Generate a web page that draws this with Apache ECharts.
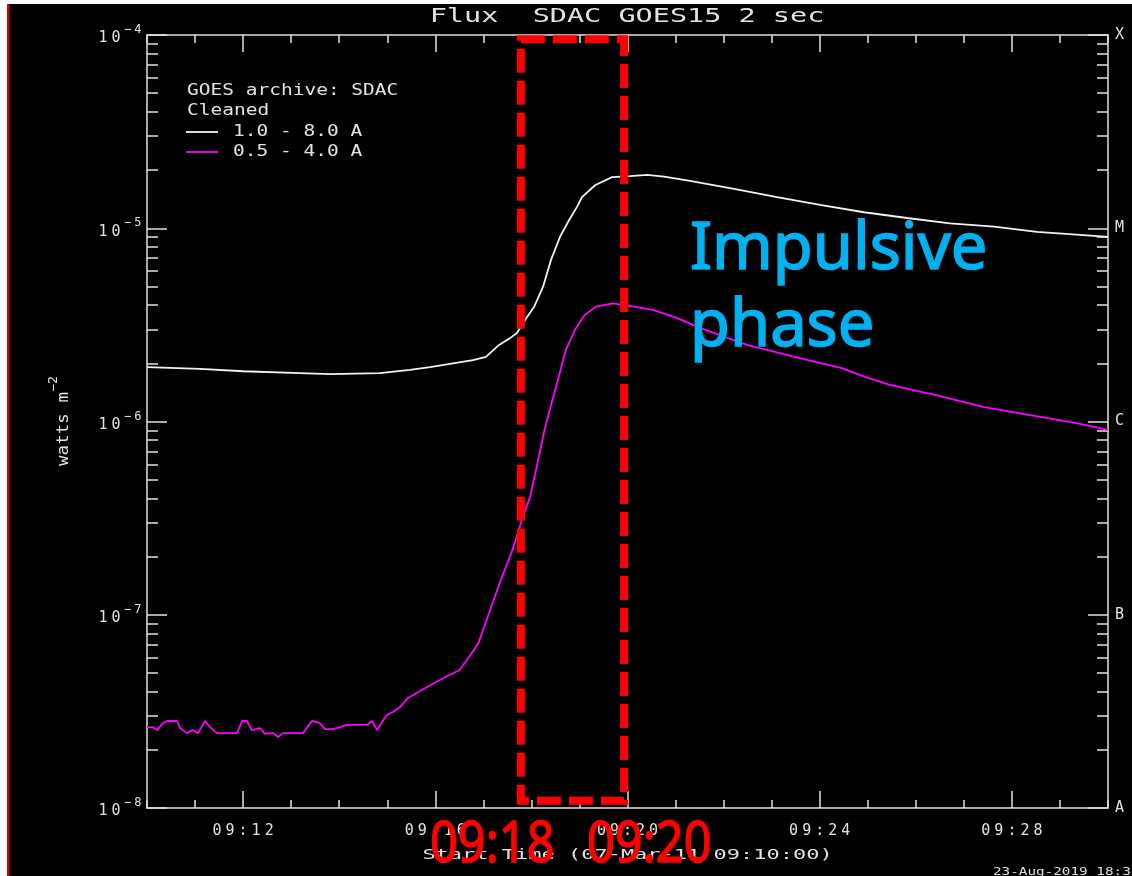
<!DOCTYPE html>
<html>
<head>
<meta charset="utf-8">
<script src="https://cdn.jsdelivr.net/npm/echarts@6/dist/echarts.min.js"></script>
<style>
html,body{margin:0;padding:0;background:#000;}
#c{width:1132px;height:876px;}
</style>
</head>
<body>
<div id="c"></div>
<script>
// ---- data (minutes after 09:00 on 07-Mar-2011, flux in W m^-2) ----
const whiteTime = [10.000, 11.103, 11.998, 13.184, 13.809, 14.849, 15.473, 15.890, 16.785, 17.055,
  17.326, 17.555, 17.700, 17.867, 18.054, 18.241, 18.408, 18.595, 18.783, 18.949,
  19.053, 19.324, 19.678, 20.052, 20.406, 20.760, 21.301, 22.217, 23.112, 24.007,
  24.922, 25.817, 26.712, 27.627, 28.522, 29.417, 30.000];
const whiteFlux = [1.91e-6, 1.87e-6, 1.82e-6, 1.78e-6, 1.76e-6, 1.78e-6, 1.85e-6, 1.91e-6, 2.08e-6, 2.16e-6,
  2.49e-6, 2.70e-6, 2.87e-6, 3.35e-6, 3.91e-6, 4.97e-6, 6.86e-6, 9.02e-6, 1.10e-5, 1.29e-5,
  1.45e-5, 1.67e-5, 1.84e-5, 1.86e-5, 1.89e-5, 1.85e-5, 1.76e-5, 1.60e-5, 1.45e-5, 1.32e-5,
  1.21e-5, 1.13e-5, 1.06e-5, 1.02e-5, 9.57e-6, 9.23e-6, 9.02e-6];

const magentaTime = [10.000, 10.125, 10.208, 10.333, 10.416, 10.624, 10.687, 10.832, 10.957, 11.061,
  11.207, 11.311, 11.457, 11.665, 11.873, 11.977, 12.081, 12.185, 12.352, 12.456,
  12.622, 12.726, 12.830, 13.039, 13.247, 13.434, 13.600, 13.704, 13.871, 14.017,
  14.162, 14.370, 14.579, 14.683, 14.787, 14.891, 14.995, 15.120, 15.265, 15.432,
  15.827, 16.212, 16.506, 16.701, 16.899, 17.047, 17.192, 17.388, 17.586, 17.784,
  17.971, 18.127, 18.273, 18.421, 18.568, 18.716, 18.907, 19.107, 19.344, 19.698,
  20.135, 20.531, 21.022, 21.509, 22.008, 22.487, 23.476, 24.458, 24.943, 25.442,
  26.420, 27.398, 28.377, 29.366, 30.000];
const magentaFlux = [2.62e-8, 2.62e-8, 2.53e-8, 2.75e-8, 2.82e-8, 2.82e-8, 2.59e-8, 2.44e-8, 2.53e-8, 2.44e-8,
  2.82e-8, 2.62e-8, 2.44e-8, 2.44e-8, 2.44e-8, 2.82e-8, 2.82e-8, 2.53e-8, 2.59e-8, 2.42e-8,
  2.44e-8, 2.33e-8, 2.44e-8, 2.44e-8, 2.44e-8, 2.82e-8, 2.75e-8, 2.56e-8, 2.56e-8, 2.62e-8,
  2.69e-8, 2.69e-8, 2.69e-8, 2.82e-8, 2.53e-8, 2.79e-8, 3.03e-8, 3.14e-8, 3.33e-8, 3.71e-8,
  4.23e-8, 4.76e-8, 5.18e-8, 6.04e-8, 7.15e-8, 9.06e-8, 1.15e-7, 1.57e-7, 2.09e-7, 2.99e-7,
  4.06e-7, 6.10e-7, 9.04e-7, 1.25e-6, 1.70e-6, 2.34e-6, 2.98e-6, 3.56e-6, 3.93e-6, 4.09e-6,
  3.93e-6, 3.78e-6, 3.44e-6, 3.05e-6, 2.75e-6, 2.49e-6, 2.16e-6, 1.89e-6, 1.70e-6, 1.55e-6,
  1.37e-6, 1.19e-6, 1.08e-6, 9.79e-7, 9.04e-7];

// axis ticks / labels
const xMajorTicks = [12, 16, 20, 24, 28];
const yDecadeExp = [-8, -7, -6, -5, -4];
const goesClass = ['A', 'B', 'C', 'M', 'X'];
const yMinorMantissa = [2, 3, 4, 5, 6, 7, 8, 9];

// highlighted window (impulsive phase box)
const boxTime = [17.78, 19.93];
const boxFlux = [1.09e-8, 9.5e-5];

// ---- helpers ----
const MONO = '"DejaVu Sans Mono", monospace';
const FG = '#e2e2e2';
const yMinorTicks = [];
yDecadeExp.slice(0, 4).forEach(e => yMinorMantissa.forEach(m => yMinorTicks.push(m * Math.pow(10, e))));

function spaced(str, key) {
  return str.split('').map(ch => '{' + key + '|' + ch + '}').join('');
}
function fmtTime(v) {
  const m = Math.round(v);
  return '09:' + (m < 10 ? '0' + m : '' + m);
}
function expOf(v) { return Math.round(Math.log10(v)); }

const axisLineStyle = { color: FG, width: 1.5 };
const tickStyle = { color: FG, width: 1.5 };

function xMinorAxis(pos) {
  return {
    type: 'value', position: pos, min: 10, max: 30, interval: 1,
    axisLine: { show: true, onZero: false, lineStyle: axisLineStyle },
    axisTick: { show: true, inside: true, length: 8, lineStyle: tickStyle },
    axisLabel: { show: false }, splitLine: { show: false }, minorTick: { show: false }
  };
}
function xMajorAxis(pos, withLabels) {
  return {
    type: 'value', position: pos, min: 10, max: 30, interval: 1,
    axisLine: { show: false, onZero: false },
    axisTick: { show: true, inside: true, length: 17, customValues: xMajorTicks, lineStyle: tickStyle },
    axisLabel: withLabels ? {
      show: true, customValues: xMajorTicks, margin: 16,
      formatter: v => spaced(fmtTime(v), 'c'),
      rich: { c: { fontFamily: MONO, fontSize: 15, color: FG, padding: [0, 2, 0, 2] } }
    } : { show: false },
    splitLine: { show: false }
  };
}
function yMainAxis(pos) {
  const left = pos === 'left';
  return {
    type: 'log', logBase: 10, position: pos, min: 1e-8, max: 1e-4,
    axisLine: { show: true, onZero: false, lineStyle: axisLineStyle },
    axisTick: { show: true, inside: true, length: 20, lineStyle: tickStyle },
    axisLabel: left ? {
      show: true, margin: 4,
      formatter: v => '{b|1}{b|0}{s|\u2212}{s|' + (-expOf(v)) + '}',
      rich: {
        b: { fontFamily: MONO, fontSize: 15, color: FG, padding: [0, 2, 0, 2], lineHeight: 22, verticalAlign: 'bottom' },
        s: { fontFamily: MONO, fontSize: 12, color: FG, padding: [0, 1.5, 0, 1.5], lineHeight: 22, verticalAlign: 'top' }
      }
    } : {
      show: true, margin: 7, fontFamily: MONO, fontSize: 15, color: FG, padding: [6, 0, 0, 0],
      formatter: v => goesClass[yDecadeExp.indexOf(expOf(v))] || ''
    },
    splitLine: { show: false }, minorTick: { show: false }
  };
}
function yMinorAxis(pos) {
  return {
    type: 'log', logBase: 10, position: pos, min: 1e-8, max: 1e-4,
    axisLine: { show: false, onZero: false },
    axisTick: { show: true, inside: true, length: 11, customValues: yMinorTicks, lineStyle: tickStyle },
    axisLabel: { show: false }, splitLine: { show: false }
  };
}

const chart = echarts.init(document.getElementById('c'), null, { renderer: 'canvas' });

const option = {
  backgroundColor: '#000',
  animation: false,
  grid: { left: 147, right: 24, top: 35, bottom: 68, containLabel: false, outerBoundsMode: 'none' },
  xAxis: [xMinorAxis('bottom'), xMajorAxis('bottom', true), xMinorAxis('top'), xMajorAxis('top', false)],
  yAxis: [yMainAxis('left'), yMinorAxis('left'), yMainAxis('right'), yMinorAxis('right')],
  series: [
    {
      type: 'line', name: '1.0 - 8.0 A', xAxisIndex: 0, yAxisIndex: 0,
      data: whiteTime.map((t, i) => [t, whiteFlux[i]]),
      symbol: 'none', showSymbol: false, z: 3,
      lineStyle: { color: '#f2f2f2', width: 1.8 }, itemStyle: { color: '#f2f2f2' }
    },
    {
      type: 'line', name: '0.5 - 4.0 A', xAxisIndex: 0, yAxisIndex: 0,
      data: magentaTime.map((t, i) => [t, magentaFlux[i]]),
      symbol: 'none', showSymbol: false, z: 3,
      lineStyle: { color: '#ff00ff', width: 1.8 }, itemStyle: { color: '#ff00ff' },
      markArea: {
        silent: true, z: 10,
        label: { show: false },
        itemStyle: { color: 'rgba(0,0,0,0)', borderColor: '#ff0000', borderWidth: 8, borderType: [24, 8] },
        data: [[{ coord: [boxTime[0], boxFlux[1]] }, { coord: [boxTime[1], boxFlux[0]] }]]
      }
    }
  ],
  graphic: [
    { type: 'rect', z: 200, shape: { x: 0, y: 0, width: 7, height: 876 }, style: { fill: '#ffffff' } },
    { type: 'rect', z: 200, shape: { x: 0, y: 0, width: 1132, height: 4 }, style: { fill: '#ffffff' } },
    { type: 'rect', z: 201, shape: { x: 7, y: 4, width: 2.5, height: 872 }, style: { fill: '#e00000' } },
    // title
    { type: 'text', z: 100, x: 627, y: 17, scaleX: 1.5,
      style: { text: 'Flux  SDAC GOES15 2 sec', font: '19px ' + MONO, fill: FG, align: 'center', verticalAlign: 'middle' } },
    // legend
    { type: 'text', z: 100, x: 187, y: 91, scaleX: 1.3,
      style: { text: 'GOES archive: SDAC', font: '15px ' + MONO, fill: FG, align: 'left', verticalAlign: 'middle' } },
    { type: 'text', z: 100, x: 187, y: 111, scaleX: 1.3,
      style: { text: 'Cleaned', font: '15px ' + MONO, fill: FG, align: 'left', verticalAlign: 'middle' } },
    { type: 'line', z: 100, shape: { x1: 186, y1: 132, x2: 218, y2: 132 }, style: { stroke: '#f2f2f2', lineWidth: 1.8 } },
    { type: 'text', z: 100, x: 233, y: 132, scaleX: 1.3,
      style: { text: '1.0 - 8.0 A', font: '15px ' + MONO, fill: FG, align: 'left', verticalAlign: 'middle' } },
    { type: 'line', z: 100, shape: { x1: 186, y1: 152, x2: 218, y2: 152 }, style: { stroke: '#ff00ff', lineWidth: 1.8 } },
    { type: 'text', z: 100, x: 233, y: 152, scaleX: 1.3,
      style: { text: '0.5 - 4.0 A', font: '15px ' + MONO, fill: FG, align: 'left', verticalAlign: 'middle' } },
    // y axis name
    { type: 'text', z: 100, x: 60, y: 421, rotation: Math.PI / 2, scaleX: 1.1,
      style: {
        text: '{a|watts m}{s|\u22122}', align: 'center', verticalAlign: 'middle',
        rich: {
          a: { fontFamily: MONO, fontSize: 16, fill: FG, color: FG, lineHeight: 24, verticalAlign: 'bottom' },
          s: { fontFamily: MONO, fontSize: 12, fill: FG, color: FG, lineHeight: 24, verticalAlign: 'top' }
        }
      } },
    // x axis name
    { type: 'text', z: 100, x: 627.5, y: 855, scaleX: 1.57,
      style: { text: 'Start Time (07-Mar-11 09:10:00)', font: '14px ' + MONO, fill: FG, align: 'center', verticalAlign: 'middle' } },
    // date stamp
    { type: 'text', z: 100, x: 993, y: 872, scaleX: 1.3,
      style: { text: '23-Aug-2019 18:35', font: '11px ' + MONO, fill: FG, align: 'left', verticalAlign: 'middle' } },
    // annotations
    { type: 'text', z: 150, x: 430, y: 846, scaleX: 0.87,
      style: { text: '09:18', font: '56px "Noto Sans"', fill: '#ff0000', stroke: '#ff0000', lineWidth: 1.5, align: 'left', verticalAlign: 'middle' } },
    { type: 'text', z: 150, x: 587, y: 846, scaleX: 0.87,
      style: { text: '09:20', font: '56px "Noto Sans"', fill: '#ff0000', stroke: '#ff0000', lineWidth: 1.5, align: 'left', verticalAlign: 'middle' } },
    { type: 'text', z: 150, x: 690, y: 250,
      style: { text: 'Impulsive', font: '65px "Noto Sans"', fill: '#00b0f0', stroke: '#00b0f0', lineWidth: 1.6, align: 'left', verticalAlign: 'middle' } },
    { type: 'text', z: 150, x: 690, y: 327,
      style: { text: 'phase', font: '65px "Noto Sans"', fill: '#00b0f0', stroke: '#00b0f0', lineWidth: 1.6, align: 'left', verticalAlign: 'middle' } }
  ]
};
chart.setOption(option);
</script>
</body>
</html>
